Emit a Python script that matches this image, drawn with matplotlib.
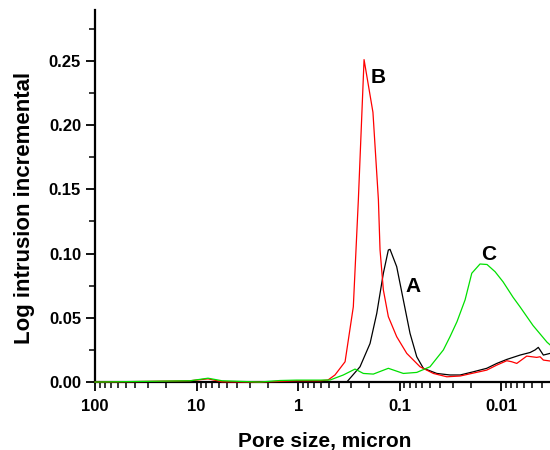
import matplotlib
matplotlib.use("Agg")
import matplotlib.pyplot as plt
from matplotlib.ticker import (LogLocator, MultipleLocator, FixedLocator,
                               FixedFormatter, FormatStrFormatter)

plt.rcParams['font.family'] = ['Liberation Sans', 'DejaVu Sans']
plt.rcParams['font.weight'] = 'bold'

# ---------------------------------------------------------------------------
# Data (pore size in micron, log intrusion incremental)
# ---------------------------------------------------------------------------
a_size = [100, 30, 10, 3, 1, 0.6, 0.435, 0.333, 0.2466, 0.1965, 0.1687, 0.1453,
          0.1298, 0.1249, 0.1074, 0.0924, 0.0794, 0.0682, 0.0587, 0.0433,
          0.0321, 0.0255, 0.0189, 0.01396, 0.01112, 0.00887, 0.00656, 0.00523,
          0.00467, 0.00434, 0.00387, 0.00333]
a_val = [0.000, 0.000, 0.000, 0.000, 0.000, 0.000, 0.000, 0.000, 0.0119, 0.030,
         0.0535, 0.0847, 0.1028, 0.1033, 0.0898, 0.0639, 0.0379, 0.0197, 0.0107,
         0.0067, 0.0055, 0.0055, 0.008, 0.0107, 0.0145, 0.0176, 0.021, 0.023,
         0.025, 0.027, 0.021, 0.0223]

b_size = [100, 28.8, 11.6, 7.72, 5.62, 2.4, 1.04, 0.61, 0.509, 0.435, 0.346,
          0.287, 0.256, 0.225, 0.184, 0.1626, 0.1567, 0.1453, 0.1298, 0.1074,
          0.0855, 0.0633, 0.0468, 0.0345, 0.0255, 0.01396, 0.01112, 0.00887,
          0.00792, 0.00707, 0.00564, 0.0045, 0.00417, 0.00387, 0.00333]
b_val = [0.000, 0.0005, 0.001, 0.0025, 0.0002, 0.000, 0.001, 0.001, 0.0016,
         0.0055, 0.0158, 0.0586, 0.142, 0.251, 0.210, 0.142, 0.103, 0.0717,
         0.0509, 0.0353, 0.0223, 0.0119, 0.0067, 0.0041, 0.0047, 0.0093, 0.0132,
         0.0166, 0.0158, 0.0145, 0.0202, 0.0192, 0.0197, 0.0171, 0.0164]

c_size = [100, 11.6, 7.72, 5.62, 2.4, 1.51, 1.04, 0.61, 0.486, 0.360, 0.276,
          0.2287, 0.1824, 0.1298, 0.0924, 0.0682, 0.0505, 0.0373, 0.0321,
          0.0274, 0.0228, 0.0196, 0.01626, 0.01387, 0.01156, 0.00964, 0.00769,
          0.00656, 0.00489, 0.00356, 0.00333]
c_val = [0.000, 0.001, 0.003, 0.001, 0.000, 0.0012, 0.0015, 0.0015, 0.0016,
         0.0055, 0.0101, 0.0067, 0.0062, 0.0107, 0.0067, 0.0075, 0.0119, 0.025,
         0.0353, 0.047, 0.064, 0.0847, 0.0919, 0.0915, 0.0859, 0.078, 0.066,
         0.0585, 0.044, 0.031, 0.029]

x_ticks = [100, 10, 1, 0.1, 0.01]
x_tick_labels = ["100", "10", "1", "0.1", "0.01"]

# ---------------------------------------------------------------------------
# Figure
# ---------------------------------------------------------------------------
fig = plt.figure(figsize=(5.5, 4.5), dpi=100)
ax = fig.add_axes([0.1727, 0.151, 0.8273, 0.827])

ax.plot(a_size, a_val, color="black", lw=0.9, clip_on=False, zorder=3)
ax.plot(b_size, b_val, color="#ff0000", lw=0.9, clip_on=False, zorder=3)
ax.plot(c_size, c_val, color="#00e000", lw=0.9, clip_on=False, zorder=3)

ax.set_xscale("log")
ax.set_xlim(100, 0.00333)
ax.set_ylim(0, 0.2897)

ax.xaxis.set_major_locator(FixedLocator(x_ticks))
ax.xaxis.set_major_formatter(FixedFormatter(x_tick_labels))
ax.xaxis.set_minor_locator(LogLocator(base=10, subs=range(2, 10), numticks=20))
ax.yaxis.set_major_locator(MultipleLocator(0.05))
ax.yaxis.set_minor_locator(MultipleLocator(0.025))
ax.yaxis.set_major_formatter(FormatStrFormatter("%.2f"))

for side in ("top", "right"):
    ax.spines[side].set_visible(False)
for side in ("left", "bottom"):
    ax.spines[side].set_linewidth(1.6)

ax.tick_params(which="major", direction="out", length=6.5, width=1.3,
               labelsize=12)
ax.tick_params(axis="x", which="major", pad=5.5)
ax.tick_params(axis="y", which="major", pad=3.5)
ax.tick_params(which="minor", direction="out", length=4, width=1.1)

# axis titles placed in figure coords to sit where the reference has them
fig.text(0.591, 0.0075, "Pore size, micron", fontsize=15, fontweight="bold",
         ha="center", va="baseline")
fig.text(0.044, 0.538, "Log intrusion incremental", fontsize=16, fontweight="bold",
         ha="center", va="center", rotation=90)

# curve labels
ax.text(0.164, 0.237, "B", fontsize=15, fontweight="bold", ha="center", va="center")
ax.text(0.0741, 0.074, "A", fontsize=15, fontweight="bold", ha="center", va="center")
ax.text(0.0135, 0.099, "C", fontsize=15, fontweight="bold", ha="center", va="center")

fig.savefig("out.png", dpi=100)
